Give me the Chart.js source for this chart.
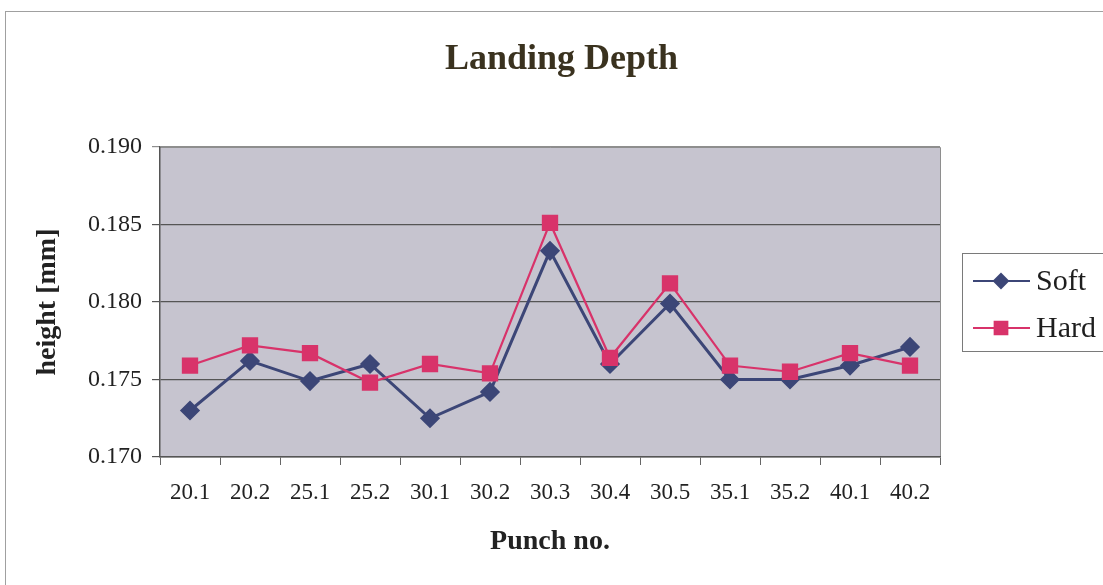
<!DOCTYPE html>
<html>
<head>
<meta charset="utf-8">
<title>Landing Depth</title>
<script src="https://cdn.jsdelivr.net/npm/chart.js@4/dist/chart.umd.min.js"></script>
<style>
    html, body { margin: 0; padding: 0; background: #fff; }
    #wrap { width: 1103px; height: 585px; }
</style>
</head>
<body>
<div id="wrap"><canvas id="chart"></canvas></div>
<script>
// Номера пуансонов
const punches = ['20.1', '20.2', '25.1', '25.2', '30.1', '30.2', '30.3', '30.4', '30.5', '35.1', '35.2', '40.1', '40.2'];
// Глубина, мм
const soft = [0.1730, 0.1762, 0.1749, 0.1760, 0.1725, 0.1742, 0.1833, 0.1760, 0.1799, 0.1750, 0.1750, 0.1759, 0.1771];
const hard = [0.1759, 0.1772, 0.1767, 0.1748, 0.1760, 0.1754, 0.1851, 0.1764, 0.1812, 0.1759, 0.1755, 0.1767, 0.1759];
const yTicks = [0.170, 0.175, 0.180, 0.185, 0.190];

const serif = "'Liberation Serif', 'Times New Roman', serif";
const softColor = '#3c4677';
const hardColor = '#d8336a';

// фон области графика, рамка и легенда
const decor = {
    id: 'decor',
    beforeDraw(c) {
        const {ctx, chartArea: a} = c;
        ctx.save();
        ctx.fillStyle = '#c6c4cf';
        ctx.fillRect(a.left, a.top, a.right - a.left, a.bottom - a.top);
        ctx.strokeStyle = '#8e8e8e';
        ctx.lineWidth = 1;
        ctx.beginPath();
        ctx.moveTo(a.left, a.top + 0.5);
        ctx.lineTo(a.right + 0.5, a.top + 0.5);
        ctx.lineTo(a.right + 0.5, a.bottom);
        ctx.stroke();
        // внешняя рамка
        ctx.strokeStyle = '#a0a0a0';
        ctx.strokeRect(5.5, 11.5, 1200, 1000);
        ctx.restore();
    },
    afterDraw(c) {
        const ctx = c.ctx;
        const items = [
            {label: 'Soft', color: softColor, style: 'rectRot', r: 7, y: 281},
            {label: 'Hard', color: hardColor, style: 'rect', r: 9, y: 328}
        ];
        ctx.save();
        ctx.fillStyle = '#fff';
        ctx.fillRect(962, 253, 200, 98);
        ctx.strokeStyle = '#7a7a7a';
        ctx.lineWidth = 1;
        ctx.strokeRect(962.5, 253.5, 200, 98);
        items.forEach(it => {
            ctx.strokeStyle = it.color;
            ctx.lineWidth = 2;
            ctx.beginPath();
            ctx.moveTo(973, it.y);
            ctx.lineTo(1030, it.y);
            ctx.stroke();
            Chart.helpers.drawPoint(ctx, {pointStyle: it.style, radius: it.r, borderWidth: 1}, 1001, it.y);
            ctx.fillStyle = it.color;
            ctx.fill();
            ctx.fillStyle = '#1e1e1e';
            ctx.font = '30px ' + serif;
            ctx.textBaseline = 'middle';
            ctx.fillText(it.label, 1036, it.y + 1);
        });
        ctx.restore();
    }
};

new Chart(document.getElementById('chart'), {
    type: 'line',
    data: {
        labels: punches,
        datasets: [
            {
                label: 'Soft',
                data: soft,
                borderColor: softColor,
                backgroundColor: softColor,
                borderWidth: 3,
                pointStyle: 'rectRot',
                pointRadius: 8,
                tension: 0,
                order: 1
            },
            {
                label: 'Hard',
                data: hard,
                borderColor: hardColor,
                backgroundColor: hardColor,
                borderWidth: 2.2,
                pointStyle: 'rect',
                pointRadius: 10,
                tension: 0,
                order: 0
            }
        ]
    },
    options: {
        responsive: true,
        maintainAspectRatio: false,
        animation: false,
        layout: { padding: { left: 20, right: 0, top: 0, bottom: 0 } },
        plugins: {
            legend: { display: false },
            tooltip: { enabled: false },
            title: {
                display: true,
                text: 'Landing Depth',
                color: '#3a321f',
                font: { family: serif, size: 36, weight: 'bold' },
                padding: { top: 38.4, bottom: 65.4 }
            }
        },
        scales: {
            x: {
                offset: true,
                grid: { display: true, drawOnChartArea: false, offset: true, color: '#666', tickLength: 8 },
                border: { color: '#555', width: 1.5 },
                ticks: { color: '#222', font: { family: serif, size: 23 }, padding: 14, maxRotation: 0, autoSkip: false },
                title: {
                    display: true,
                    text: 'Punch no.',
                    color: '#222',
                    font: { family: serif, size: 28, weight: 'bold' },
                    padding: { top: 0, bottom: 26 }
                },
                afterFit(s) { s.height = 128; }
            },
            y: {
                min: yTicks[0],
                max: yTicks[yTicks.length - 1],
                afterBuildTicks(s) { s.ticks = yTicks.map(v => ({value: v})); },
                grid: {
                    color: ctx => ctx.index === yTicks.length - 1 ? '#8e8e8e' : '#555',
                    lineWidth: 1.2,
                    tickLength: 8
                },
                border: { color: '#555', width: 1.5 },
                ticks: {
                    color: '#222',
                    font: { family: serif, size: 24 },
                    padding: 10,
                    callback: v => v.toFixed(3)
                },
                title: {
                    display: true,
                    text: 'height [mm]',
                    color: '#222',
                    font: { family: serif, size: 28, weight: 'bold' },
                    padding: { top: 11, bottom: 0 }
                },
                afterFit(s) { s.width = 140; }
            },
            // пустая ось справа — место под легенду
            yR: {
                position: 'right',
                display: true,
                grid: { display: false },
                border: { display: false },
                ticks: { display: false },
                afterFit(s) { s.width = 163; }
            }
        }
    },
    plugins: [decor]
});
</script>
</body>
</html>
